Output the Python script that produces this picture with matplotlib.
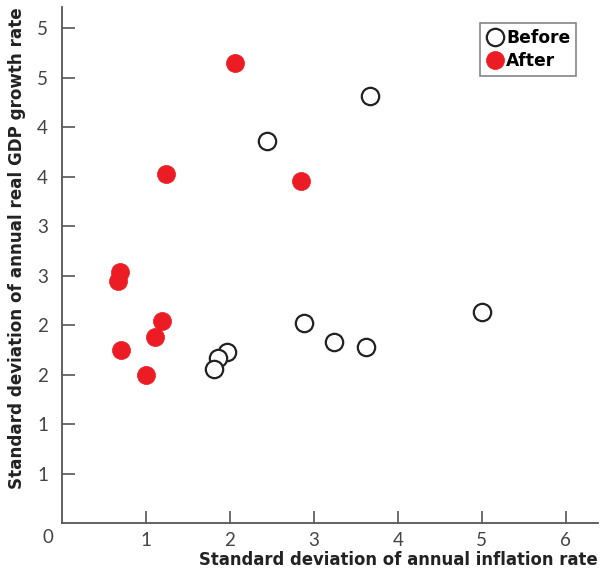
import matplotlib
matplotlib.use("Agg")
import matplotlib.pyplot as plt

# standard deviations
before_infl = [3.67, 2.44, 2.88, 3.24, 3.62, 5.00, 1.96, 1.86, 1.81]
before_gdp = [4.31, 3.86, 2.02, 1.83, 1.78, 2.13, 1.73, 1.67, 1.56]

after_infl = [2.06, 1.24, 2.85, 0.69, 0.67, 1.19, 1.11, 0.70, 1.00]
after_gdp = [4.65, 3.53, 3.46, 2.54, 2.45, 2.04, 1.88, 1.75, 1.50]

x_ticks = [1, 2, 3, 4, 5, 6]
y_ticks = [0.5, 1.0, 1.5, 2.0, 2.5, 3.0, 3.5, 4.0, 4.5, 5.0]
y_tick_labels = ["1", "1", "2", "2", "3", "3", "4", "4", "5", "5"]

plt.rcParams['font.family'] = ['Lato', 'DejaVu Sans']

fig = plt.figure(figsize=(6.05, 5.73), dpi=100)
ax = fig.add_axes([0.1025, 0.0867, 0.8855, 0.9005])

ax.plot(before_infl, before_gdp, 'o', ms=12.5, mfc='white', mec='#222222', mew=1.6,
        label='Before', clip_on=False)
ax.plot(after_infl, after_gdp, 'o', ms=13, mfc='#ec1c24', mec='#ec1c24', mew=0.5,
        label='After', clip_on=False)

ax.set_xlim(0, 6.38)
ax.set_ylim(0, 5.21)

grey = '#555555'
for s in ['top', 'right']:
    ax.spines[s].set_visible(False)
for s in ['left', 'bottom']:
    ax.spines[s].set_color(grey)
    ax.spines[s].set_linewidth(1.3)

ax.set_xticks(x_ticks)
ax.set_xticklabels([str(v) for v in x_ticks])
ax.set_yticks(y_ticks)
ax.set_yticklabels(y_tick_labels)
ax.tick_params(direction='in', length=9, width=1.2, color=grey,
               labelsize=13.5, labelcolor='#444444')
ax.tick_params(axis='x', pad=6)
ax.tick_params(axis='y', pad=10)
ax.text(-0.17, -0.14, "0", fontsize=13.5, color='#444444', ha='center', va='center',
        transform=ax.transData, clip_on=False)

lab_font = {'family': 'DejaVu Sans', 'weight': 'bold', 'size': 11.9}
ax.set_xlabel("Standard deviation of annual inflation rate", fontdict=lab_font,
              color='#222222', loc='right', labelpad=2)
lab_font_y = dict(lab_font, size=12.1)
ax.set_ylabel("Standard deviation of annual real GDP growth rate", fontdict=lab_font_y,
              color='#222222', loc='top', labelpad=8)

leg = ax.legend(loc='upper right', bbox_to_anchor=(0.976, 0.987), frameon=True,
                fancybox=False, handletextpad=0.15, handlelength=1.0,
                borderpad=0.35, labelspacing=0.3,
                prop={'family': 'DejaVu Sans', 'weight': 'bold', 'size': 12.3})
leg.get_frame().set_edgecolor('#666666')
leg.get_frame().set_linewidth(1.2)

fig.savefig("out.png", dpi=100)
